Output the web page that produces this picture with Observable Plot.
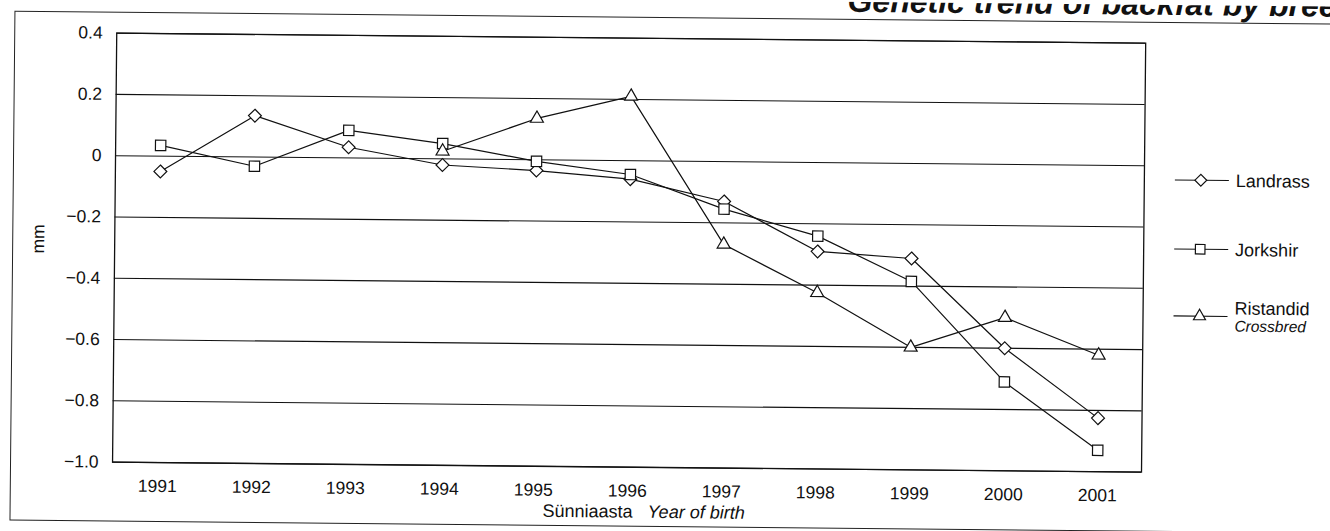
<!DOCTYPE html>
<html><head><meta charset="utf-8">
<script src="https://cdn.jsdelivr.net/npm/d3@7"></script>
<script src="https://cdn.jsdelivr.net/npm/@observablehq/plot@0.6"></script>
<style>
html,body{margin:0;padding:0;background:#fff;overflow:hidden;width:1330px;height:531px}
#wrap{position:relative;width:1330px;height:531px;transform:rotate(0.56deg);transform-origin:665px 265px;font-family:"Liberation Sans",Arial,sans-serif;color:#111}
#outer{position:absolute;left:12px;top:17px;width:1400px;height:510px;border:1.5px solid #222;box-sizing:border-box}
#chart{position:absolute;left:0;top:0}
#chart svg text{font-size:17.5px}
#over{position:absolute;left:0;top:0;pointer-events:none}
</style></head>
<body><div id="wrap"><div id="outer"></div><div id="chart"></div><svg id="over" width="1330" height="531"></svg></div>
<script>
// ---- data ----
const years = [1991, 1992, 1993, 1994, 1995, 1996, 1997, 1998, 1999, 2000, 2001];
const landrass  = [-0.05, 0.135, 0.035, -0.02, -0.035, -0.06, -0.13, -0.29, -0.31, -0.60, -0.825];
const jorkshir  = [0.035, -0.03, 0.09, 0.05, -0.005, -0.045, -0.155, -0.24, -0.385, -0.71, -0.93];
const ristandid = [null, null, null, 0.025, 0.135, 0.21, -0.27, -0.425, -0.60, -0.50, -0.62];
const seriesNames = ["Landrass", "Jorkshir", "Ristandid"];
const seriesSub = ["", "", "Crossbred"];
const yTicks = [-1.0, -0.8, -0.6, -0.4, -0.2, 0, 0.2, 0.4];
const yLabel = "mm";
const xLabel = "Sünniaasta";
const xLabelEn = "Year of birth";
const titleText = "Genetic trend of backfat by breed";

const symbols = ["diamond2", "square2", "triangle2"];
const radii = [5.8, 6.6, 6.2];
const seriesVals = [landrass, jorkshir, ristandid];

const rows = seriesVals.map((vals, i) =>
  years.map((yr, j) => ({year: yr, value: vals[j], series: seriesNames[i]})).filter(d => d.value != null));

const fmt = d => d === 0 ? "0" : d3.format(".1f")(d).replace("-", "\u2212");

const marks = [
  Plot.gridY(yTicks, {stroke: "#111", strokeOpacity: 1, strokeWidth: 1.1}),
  Plot.frame({stroke: "#111", strokeWidth: 1.3}),
  Plot.axisY({ticks: yTicks, tickFormat: fmt, tickSize: 0, tickPadding: 14, label: null}),
  Plot.axisX({tickSize: 0, tickPadding: 17, tickFormat: d => String(d), label: null})
];
rows.forEach((r, i) => {
  marks.push(Plot.line(r, {x: "year", y: "value", stroke: "#111", strokeWidth: 1.2}));
});
rows.forEach((r, i) => {
  marks.push(Plot.dot(r, {x: "year", y: "value", symbol: () => symbols[i], r: radii[i], fill: "white", stroke: "#111", strokeWidth: 1.2}));
});

const chart = Plot.plot({
  width: 1330, height: 531,
  marginLeft: 114, marginRight: 187, marginTop: 38, marginBottom: 64,
  style: {fontFamily: "'Liberation Sans', Arial, sans-serif", fontSize: "17.5px", color: "#111", background: "transparent"},
  x: {type: "point", domain: years, padding: 0.47},
  y: {domain: [-1.0, 0.4]},
  symbol: {domain: symbols, range: symbols},
  marks
});
document.getElementById("chart").appendChild(chart);

// ---- annotations: title, axis titles, legend ----
const svg = d3.select("#over");
svg.append("text").attr("x", 845).attr("y", 10)
  .attr("font-size", 32).attr("font-weight", "bold").attr("font-style", "italic")
  .attr("fill", "#111").text(titleText);
svg.append("text").attr("transform", "translate(44,245) rotate(-90)")
  .attr("text-anchor", "middle").attr("font-size", 17.5).attr("fill", "#111").text(yLabel);
const xt = svg.append("text").attr("x", 545).attr("y", 518).attr("font-size", 18).attr("fill", "#111");
xt.append("tspan").text(xLabel);
xt.append("tspan").attr("dx", 15).attr("font-style", "italic").text(xLabelEn);

const legY = [175, 244, 311];
seriesNames.forEach((name, i) => {
  const g = svg.append("g").attr("transform", `translate(0,${legY[i]})`);
  g.append("line").attr("x1", 1174).attr("x2", 1228).attr("y1", 0).attr("y2", 0).attr("stroke", "#111").attr("stroke-width", 1.2);
  const sym = {diamond2: d3.symbolDiamond2, square2: d3.symbolSquare2, triangle2: d3.symbolTriangle2}[symbols[i]];
  g.append("path").attr("transform", "translate(1200,0)")
    .attr("d", d3.symbol(sym, Math.PI * radii[i] * radii[i] * 0.85)())
    .attr("fill", "white").attr("stroke", "#111").attr("stroke-width", 1.2);
  g.append("text").attr("x", 1235).attr("y", seriesSub[i] ? -2 : 6.5).attr("font-size", 18).attr("fill", "#111").text(name);
  if (seriesSub[i]) g.append("text").attr("x", 1235).attr("y", 15).attr("font-size", 15.5).attr("font-style", "italic").attr("fill", "#111").text(seriesSub[i]);
});
</script></body></html>
